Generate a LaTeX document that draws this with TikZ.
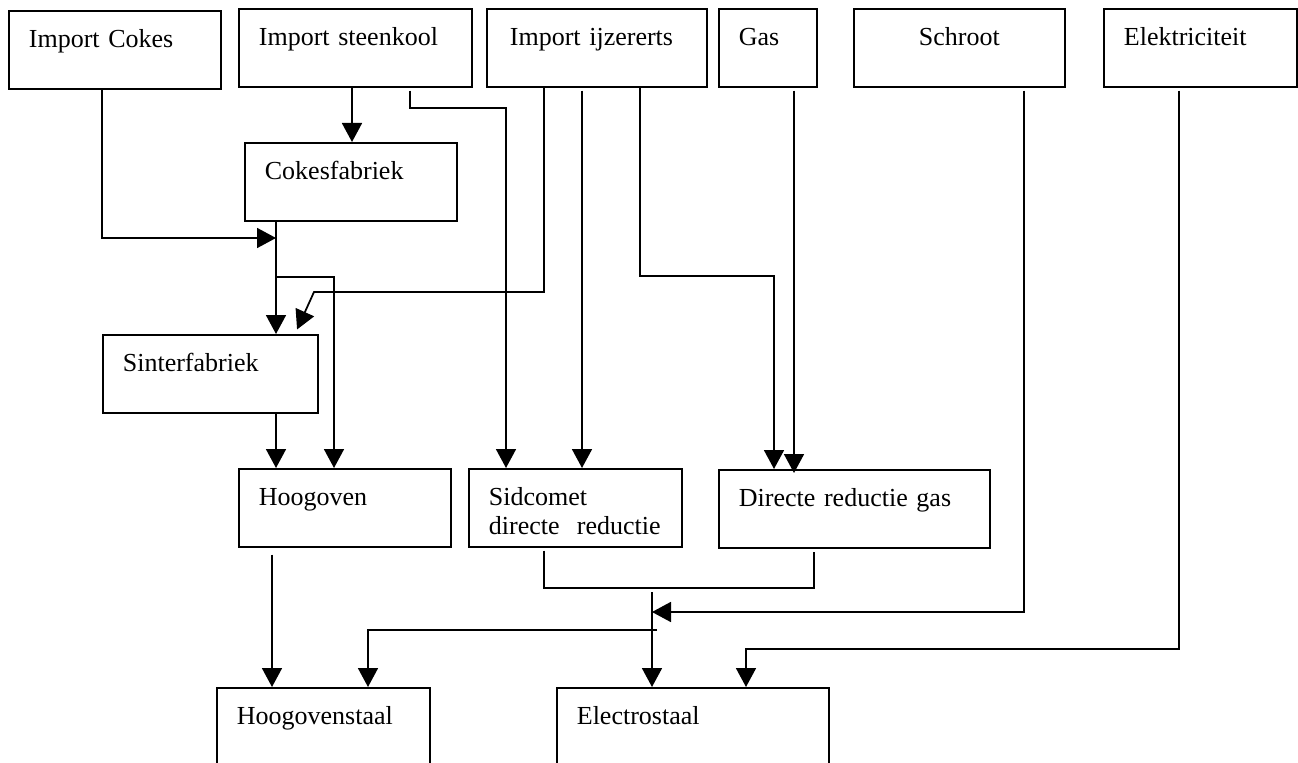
\documentclass[tikz,border=0pt]{standalone}
\usepackage{fontspec}
\setmainfont{Liberation Serif}
\usetikzlibrary{arrows.meta}

\begin{document}
\begin{tikzpicture}[
    x=0.02cm, y=-0.02cm,
    box/.style={rectangle, draw=black, line width=1pt, anchor=north west,
                inner xsep=0.4cm, inner ysep=0pt,
                text height=0.74cm, text depth=0.82cm,
                align=left, font=\fontsize{14.8pt}{16.5pt}\selectfont},
    arr/.style={-{Triangle[length=0.38cm, width=0.4cm]}, line width=1pt},
    lnk/.style={line width=1pt},
  ]
    \useasboundingbox (0,0) rectangle (1298,763);
    \clip (0,0) rectangle (1298,763);

    % ── Inputs ───────────────────────────────────
    \node[box, text width=3.44cm] (cokes) at (8,10) {Import Cokes};
    \node[box, text width=3.86cm] (kool) at (238,8) {Import steenkool};
    \node[box, text width=3.48cm, inner xsep=0.46cm] (erts) at (486,8) {Import ijzererts};
    \node[box, text width=1.16cm] (gas) at (718,8) {Gas};
    \node[box, text width=3.42cm, align=center] (schroot) at (853,8) {Schroot};
    \node[box, text width=3.06cm] (elek) at (1103,8) {Elektriciteit};

    % ── Plants ───────────────────────────────────
    \node[box, text width=3.44cm] (cokesfab) at (244,142) {Cokesfabriek};
    \node[box, text width=3.50cm] (sinter) at (102,334) {Sinterfabriek};
    \node[box, text width=3.44cm] (hoogoven) at (238,468) {Hoogoven};
    \node[box, text width=3.46cm] (sidcomet) at (468,468) {Sidcomet\\directe~ reductie};
    \node[box, text width=4.62cm] (drgas) at (718,469) {Directe reductie gas};

    % ── Steel ────────────────────────────────────
    \node[box, text width=3.46cm] (hgstaal) at (216,687) {Hoogovenstaal};
    \node[box, text width=4.64cm] (estaal) at (556,687) {Electrostaal};

    % ── Junctions ────────────────────────────────
    \coordinate (cj) at (276,238);
    \coordinate (bj) at (276,277);
    \coordinate (mj) at (652,592);
    \coordinate (sj) at (652,612);
    \coordinate (hj) at (657,630);

    % ── Cokes and coal ───────────────────────────
    \draw[arr] (102,0 |- cokes.south) |- (cj);
    \draw[arr] (352,0 |- kool.south) -- (352,0 |- cokesfab.north);
    \draw[arr, shorten <=0.06cm] (410,0 |- kool.south) |- (506,108) -- (506,0 |- sidcomet.north);

    % ── Iron ore and gas ─────────────────────────
    \draw[arr, shorten >=0.1cm] (544,0 |- erts.south) |- (314,292) -- (295,0 |- sinter.north);
    \draw[arr, shorten <=0.06cm] (582,0 |- erts.south) -- (582,0 |- sidcomet.north);
    \draw[arr] (640,0 |- erts.south) |- (774,276) -- (774,0 |- drgas.north);
    \draw[arr, shorten <=0.06cm, shorten >=-0.08cm] (794,0 |- gas.south) -- (794,0 |- drgas.north);

    % ── Cokes, sinter, blast furnace ─────────────
    \draw[arr] (276,0 |- cokesfab.south) -- (276,0 |- sinter.north);
    \draw[arr] (bj) -| (334,0 |- hoogoven.north);
    \draw[arr] (276,0 |- sinter.south) -- (276,0 |- hoogoven.north);
    \draw[arr, shorten <=0.14cm] (272,0 |- hoogoven.south) -- (272,0 |- hgstaal.north);

    % ── Reduction, scrap, electricity ────────────
    \draw[lnk, shorten <=0.06cm, shorten >=0.06cm] (544,0 |- sidcomet.south) |- (814,588) -- (814,0 |- drgas.south);
    \draw[arr] (mj) -- (652,0 |- estaal.north);
    \draw[arr, shorten <=0.06cm] (1024,0 |- schroot.south) |- (sj);
    \draw[arr] (hj) -| (368,0 |- hgstaal.north);
    \draw[arr, shorten <=0.06cm] (1179,0 |- elek.south) |- (746,649) -- (746,0 |- estaal.north);
  \end{tikzpicture}
\end{document}
